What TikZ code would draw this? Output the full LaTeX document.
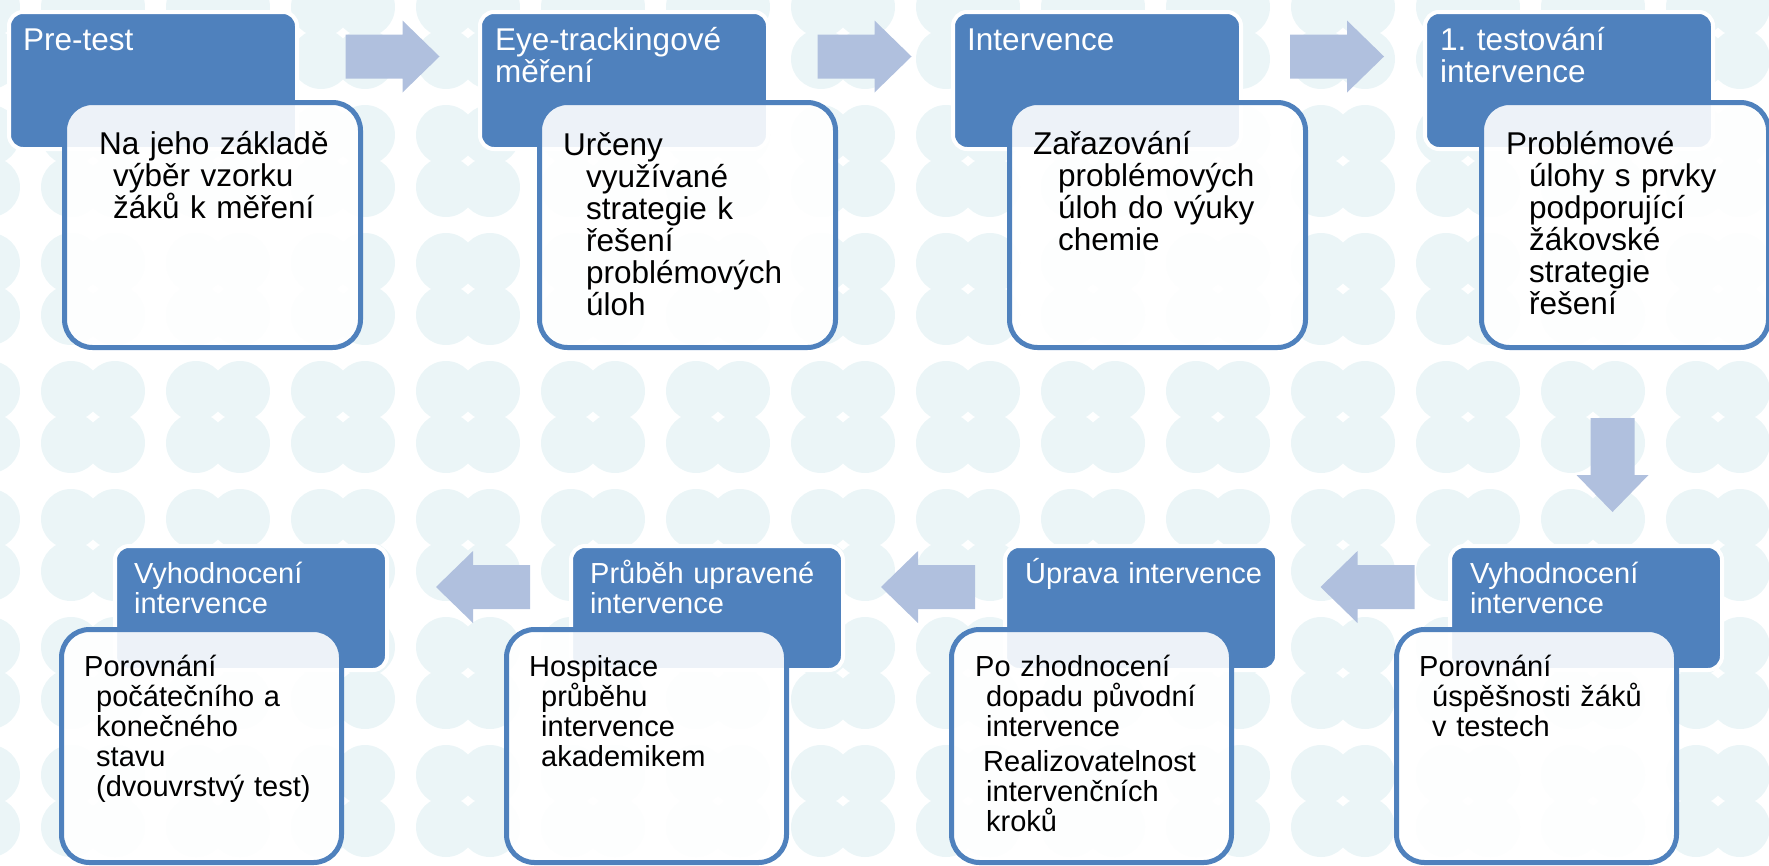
\documentclass[tikz,border=0pt]{standalone}
\usepackage{fontspec}
\setmainfont{Liberation Sans}
\usetikzlibrary{calc}
\definecolor{stepblue}{HTML}{4F81BD}
\definecolor{arrowblue}{HTML}{B0C0DE}
\definecolor{tileblue}{HTML}{EBF5F7}
\setlength{\parindent}{0pt}
\newlength\stepindent
\newcommand\nextln{\\\hspace*{\stepindent}}
\newcommand\toprow{\fontsize{31.5}{32}\selectfont}
\newcommand\lowrow{\fontsize{29}{30}\selectfont}
\newcommand\capline{\rule{0pt}{1em}}

\begin{document}
\begin{tikzpicture}[x=1pt,y=-1pt]
\tikzset{
  head/.style={draw=white, line width=4pt, fill=stepblue, rounded corners=14pt,
    anchor=north west, inner sep=0pt},
  tophead/.style={head, minimum width=288pt, minimum height=137pt},
  lowhead/.style={head, minimum width=272pt, minimum height=124pt},
  body/.style={draw=stepblue, line width=5pt, fill=white, fill opacity=0.9,
    rounded corners=28pt, anchor=north west, inner sep=0pt},
  topbody/.style={body, minimum width=296pt, minimum height=245pt},
  lowbody/.style={body, minimum width=280pt, minimum height=233pt},
  headtext/.style={anchor=north west, inner sep=0pt, text=white, align=left,
    text width=265pt, execute at begin node=\capline},
  bodytext/.style={anchor=north west, inner sep=0pt, align=left, text width=262pt,
    execute at begin node={\setlength\stepindent{#1}\capline}},
  pics/flowarrow/.style={code={
    \fill[arrowblue] (-47,-22) -- (10,-22) -- (10,-36) -- (47,0) -- (10,36)
      -- (10,22) -- (-47,22) -- cycle;}}
}
\useasboundingbox (0,0) rectangle (1769,865);

% background tiles
\begin{scope}
\clip (0,0) rectangle (1769,865);
\foreach \i in {0,...,14}
  \foreach \j in {0,...,6}
    \foreach \dx/\dy in {-22/-26,22/-26,-22/26,22/26}
      \fill[tileblue] ({125*\i-32+\dx},{128*\j+33+\dy}) circle[radius=30];
\end{scope}

% headers
\node[tophead] (h1) at (7,10) {};
\node[tophead] (h2) at (478,10) {};
\node[tophead] (h3) at (951,10) {};
\node[tophead] (h4) at (1423,10) {};
\node[lowhead] (h5) at (1448,544) {};
\node[lowhead] (h6) at (1003,544) {};
\node[lowhead] (h7) at (569,544) {};
\node[lowhead] (h8) at (113,544) {};

% bodies
\node[topbody] (b1) at (62,100) {};
\node[topbody] (b2) at (537,100) {};
\node[topbody] (b3) at (1007,100) {};
\node[topbody, minimum width=287pt] (b4) at (1479,100) {};
\node[lowbody] (b5) at (1394,627) {};
\node[lowbody] (b6) at (949,627) {};
\node[lowbody] (b7) at (504,627) {};
\node[lowbody] (b8) at (59,627) {};

% header texts
\node[headtext, font=\toprow] (t1) at (23,19) {Pre-test};
\node[headtext, font=\toprow] (t2) at (495,19) {Eye-trackingové\\měření};
\node[headtext, font=\toprow] (t3) at (967,19) {Intervence};
\node[headtext, font=\toprow] (t4) at (1440,19) {1.\ testování\\intervence};
\node[headtext, font=\lowrow] (t5) at (1470,554) {Vyhodnocení\\intervence};
\node[headtext, font=\lowrow] (t6) at (1025,554) {Úprava intervence};
\node[headtext, font=\lowrow] (t7) at (590,554) {Průběh upravené\\intervence};
\node[headtext, font=\lowrow] (t8) at (134,554) {Vyhodnocení\\intervence};

% body texts
\node[bodytext=14pt, font=\toprow] (d1) at (99,123)
  {Na jeho základě\nextln výběr vzorku\nextln žáků k měření};
\node[bodytext=23pt, font=\toprow] (d2) at (563,124)
  {Určeny\nextln využívané\nextln strategie k\nextln řešení\nextln problémových\nextln úloh};
\node[bodytext=25pt, font=\toprow] (d3) at (1033,123)
  {Zařazování\nextln problémových\nextln úloh do výuky\nextln chemie};
\node[bodytext=23pt, font=\toprow] (d4) at (1506,123)
  {Problémové\nextln úlohy s prvky\nextln podporující\nextln žákovské\nextln strategie\nextln řešení};
\node[bodytext=13pt, font=\lowrow] (d5) at (1419,647)
  {Porovnání\nextln úspěšnosti žáků\nextln v testech};
\node[bodytext=11pt, font=\lowrow] (d6) at (975,647)
  {Po zhodnocení\nextln dopadu původní\nextln intervence\\[5pt]\hspace*{8pt}Realizovatelnost\nextln intervenčních\nextln kroků};
\node[bodytext=12pt, font=\lowrow] (d7) at (529,647)
  {Hospitace\nextln průběhu\nextln intervence\nextln akademikem};
\node[bodytext=12pt, font=\lowrow] (d8) at (84,647)
  {Porovnání\nextln počátečního a\nextln konečného\nextln stavu\nextln (dvouvrstvý test)};

% arrows
\pic at ($(h1.east)!0.5!(h2.west)+(4,-24)$) {flowarrow};
\pic at ($(h2.east)!0.5!(h3.west)+(4,-24)$) {flowarrow};
\pic at ($(h3.east)!0.5!(h4.west)+(4,-24)$) {flowarrow};
\pic[rotate=-90] at ($(b4.south)!0.5!(h5.north)+(7,18)$) {flowarrow};
\pic[rotate=180] at ($(h5.west)!0.5!(h6.east)+(4,-21)$) {flowarrow};
\pic[rotate=180] at ($(h6.west)!0.5!(h7.east)+(4,-21)$) {flowarrow};
\pic[rotate=180] at ($(h7.west)!0.5!(h8.east)+(4,-21)$) {flowarrow};
\end{tikzpicture}
\end{document}
